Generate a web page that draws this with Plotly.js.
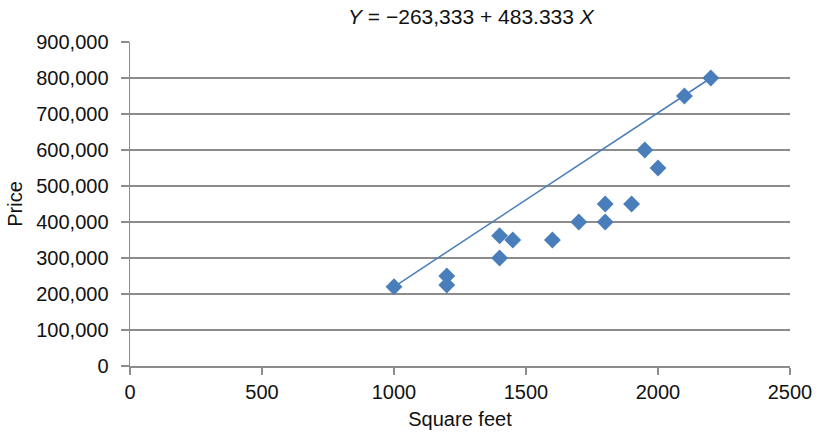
<!DOCTYPE html>
<html>
<head>
<meta charset="utf-8">
<script src="https://cdn.plot.ly/plotly-3.0.1.min.js"></script>
<style>html,body{margin:0;padding:0;background:#fff}#chart{width:819px;height:432px}</style>
</head>
<body>
<div id="chart"></div>
<script>
// Data
const sqft  = [1000, 1200, 1200, 1400, 1400, 1450, 1600, 1700, 1800, 1800, 1900, 1950, 2000, 2100, 2200];
const price = [220000, 250000, 225000, 300000, 362000, 350000, 350000, 400000, 450000, 400000, 450000, 600000, 550000, 750000, 800000];
// Fitted regression line end points (Y = -263,333 + 483.333 X)
const lineX = [1000, 2200];
const lineY = [220000, 800000];
const xTicks = [0, 500, 1000, 1500, 2000, 2500];
const yTicks = [0, 100000, 200000, 300000, 400000, 500000, 600000, 700000, 800000, 900000];
const yTickText = ["0", "100,000", "200,000", "300,000", "400,000", "500,000", "600,000", "700,000", "800,000", "900,000"];

const blue = "#4a7ebb";
const grid = "#8c8c8c";
const font = "Liberation Sans, Arial, Helvetica, sans-serif";
const txt = "#111";

const traces = [
  {x: lineX, y: lineY, type: "scatter", mode: "lines", line: {color: blue, width: 1.5}, hoverinfo: "skip"},
  {x: sqft, y: price, type: "scatter", mode: "markers", marker: {symbol: "diamond", size: 13, color: blue}}
];

const layout = {
  width: 819, height: 432,
  margin: {l: 130, r: 29, t: 42, b: 66},
  paper_bgcolor: "#fff", plot_bgcolor: "#fff",
  showlegend: false,
  font: {family: font, size: 20, color: txt},
  title: {text: "<i>Y</i> = \u2212263,333 + 483.333 <i>X</i>", x: 0.575, xanchor: "center", y: 0.962, yanchor: "middle", font: {family: font, size: 21, color: txt}},
  xaxis: {
    range: [0, 2500], tickvals: xTicks, ticktext: xTicks.map(String),
    showgrid: false, zeroline: false,
    showline: true, linecolor: grid, linewidth: 1.5,
    ticks: "outside", ticklen: 7, tickcolor: grid, tickwidth: 1.5,
    tickfont: {family: font, size: 20, color: txt},
    title: {text: "Square feet", font: {family: font, size: 20, color: txt}, standoff: 10}
  },
  yaxis: {
    range: [0, 900000], tickvals: yTicks, ticktext: yTickText,
    showgrid: true, gridcolor: grid, gridwidth: 1.5, zeroline: false,
    showline: true, linecolor: grid, linewidth: 1.5,
    ticks: "outside", ticklen: 8, tickcolor: grid, tickwidth: 1.5,
    ticklabelstandoff: 8,
    tickfont: {family: font, size: 20, color: txt},
    title: {text: "Price", font: {family: font, size: 20, color: txt}, standoff: 8}
  }
};

Plotly.newPlot("chart", traces, layout, {displayModeBar: false, staticPlot: true});
</script>
</body>
</html>
